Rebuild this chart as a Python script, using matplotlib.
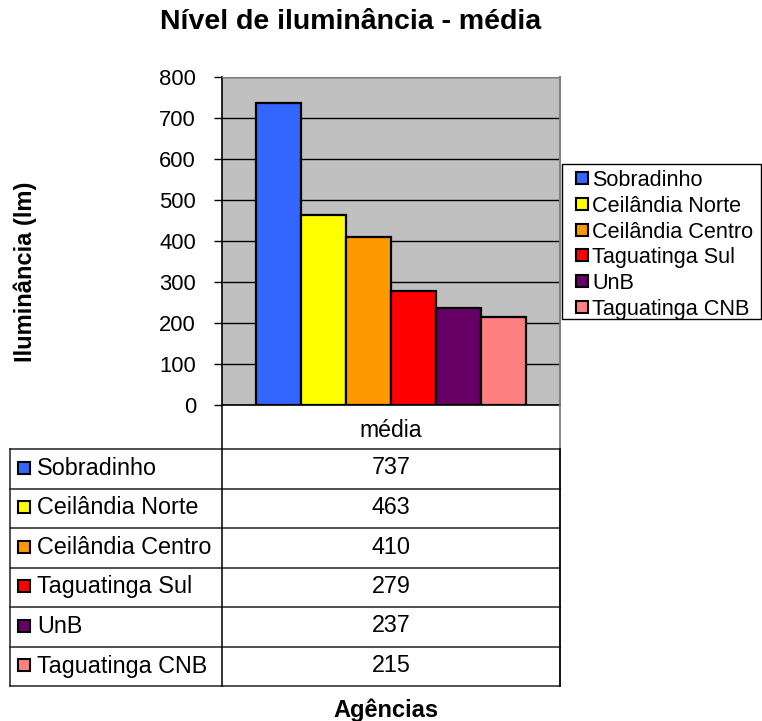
import matplotlib
matplotlib.use('Agg')
import matplotlib.pyplot as plt
from matplotlib.patches import Rectangle

# médias de iluminância por agência
agencias = ['Sobradinho', 'Ceilândia Norte', 'Ceilândia Centro',
            'Taguatinga Sul', 'UnB', 'Taguatinga CNB']
media = [737, 463, 410, 279, 237, 215]
cores = ['#3366FF', '#FFFF00', '#FF9900', '#FF0000', '#660066', '#FF8080']
categoria = 'média'
yticks = [0, 100, 200, 300, 400, 500, 600, 700, 800]

plt.rcParams['font.family'] = ['Liberation Sans', 'DejaVu Sans']

W, H = 762, 721
fig = plt.figure(figsize=(W / 100, H / 100), dpi=100)


def caixa(x0, y0, x1, y1):
    # caixa em pixels (origem no topo) -> fração da figura
    return [x0 / W, 1 - y1 / H, (x1 - x0) / W, (y1 - y0) / H]


# area do grafico
ax = fig.add_axes(caixa(222, 77, 560, 405))
ax.set_facecolor('#C0C0C0')
n = len(media)
larg = 45 / 338
inicio = 34 / 338
xs = [inicio + larg * (i + 0.5) for i in range(n)]
ax.bar(xs, media, width=larg, color=cores, edgecolor='black', linewidth=1.6, zorder=3)
ax.set_xlim(0, 1)
ax.set_ylim(0, 800)
ax.set_yticks(yticks)
ax.set_xticks([])
ax.yaxis.grid(True, color='black', linewidth=1)
ax.set_axisbelow(True)
ax.tick_params(axis='y', direction='out', length=5.8, width=1, pad=13, labelsize=15.8)
ax.spines['left'].set_color('black')
ax.spines['left'].set_linewidth(1.2)
ax.spines['bottom'].set_color('black')
ax.spines['bottom'].set_linewidth(1.2)
ax.spines['top'].set_color('#808080')
ax.spines['right'].set_color('#808080')
ax.spines['right'].set_linewidth(1.5)

# camada para tabela e legenda, em pixels
ov = fig.add_axes([0, 0, 1, 1])
ov.set_xlim(0, W)
ov.set_ylim(H, 0)
ov.axis('off')

# tabela de dados
topo = 449
alt = (686 - topo) / n
for i in range(n + 1):
    y = topo + i * alt
    ov.plot([10, 560], [y, y], color='#202020', lw=1.1)
ov.plot([10, 10], [topo, 686], color='#202020', lw=1.1)
ov.plot([222, 222], [405, 686], color='black', lw=1.1)
ov.plot([560, 560], [405, topo], color='#808080', lw=1.3)
ov.plot([560, 560], [topo, 686], color='black', lw=1.3)
ov.text(391, 437, categoria, ha='center', va='baseline', fontsize=16.6)
for i, (nome, valor, cor) in enumerate(zip(agencias, media, cores)):
    y = topo + i * alt
    ov.add_patch(Rectangle((18, y + 12.5), 12, 12, facecolor=cor, edgecolor='black', lw=1.5))
    ov.text(37, y + 26, nome, ha='left', va='baseline', fontsize=16.8)
    ov.text(391, y + 25.5, str(valor), ha='center', va='baseline', fontsize=16.8)

# legenda
ov.add_patch(Rectangle((562, 164), 199, 155, fill=False, edgecolor='black', lw=1))
for i, (nome, cor) in enumerate(zip(agencias, cores)):
    y = 172 + i * 25.8
    ov.add_patch(Rectangle((576, y), 12, 12, facecolor=cor, edgecolor='black', lw=1.5))
    ov.text(592, y + 14, nome, ha='left', va='baseline', fontsize=15.6)

fig.text(351 / W, 1 - 29 / H, 'Nível de iluminância - média', ha='center', va='baseline',
         fontsize=20.5, fontweight='bold')
fig.text(25 / W, 1 - 272 / H, 'Iluminância (lm)', rotation=90, ha='center', va='center',
         fontsize=17, fontweight='bold')
fig.text(386 / W, 1 - 717 / H, 'Agências', ha='center', va='baseline',
         fontsize=17, fontweight='bold')

fig.savefig('out.png', dpi=100)
